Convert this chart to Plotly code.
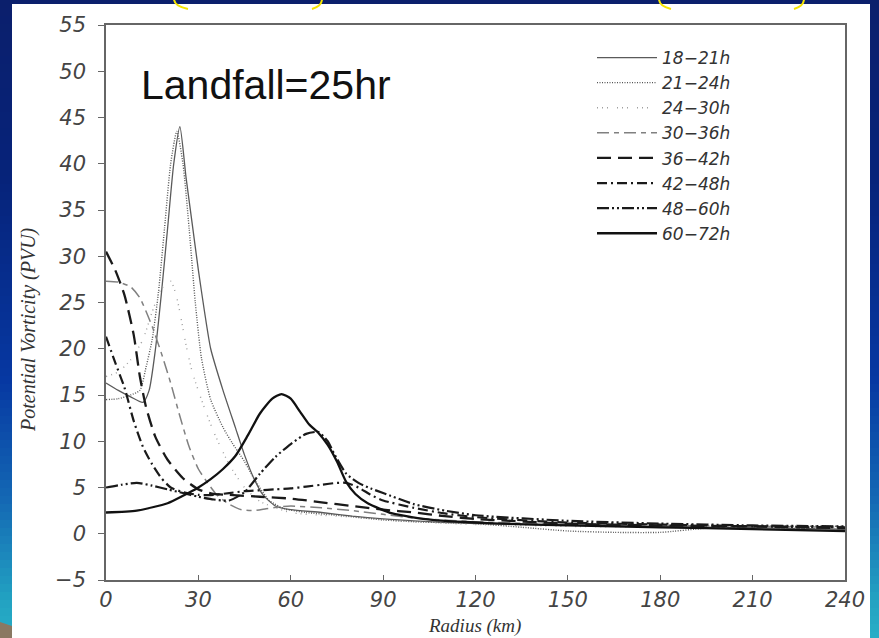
import plotly.graph_objects as go

# ---------------- data ----------------
series_names = ["18\u221221h", "21\u221224h", "24\u221230h", "30\u221236h",
                "36\u221242h", "42\u221248h", "48\u221260h", "60\u221272h"]

r_18_21 = [0, 4, 8, 12, 14, 16, 18, 20, 22, 24, 26, 28, 30, 32, 34, 38, 42, 45, 48, 51, 55, 60, 70, 80, 90, 100, 120, 150, 180, 210, 240]
pv_18_21 = [16.3, 15.5, 14.8, 14.2, 15.5, 19.8, 26, 33, 40, 44, 38.5, 33.5, 28.5, 24, 20, 15.5, 11.5, 8.5, 6, 4.2, 3, 2.6, 2.3, 1.9, 1.6, 1.4, 1.1, 0.95, 0.8, 0.65, 0.5]

r_21_24 = [0, 4, 8, 11, 13, 15, 17, 19, 21, 23, 25, 27, 29, 31, 34, 38, 41, 45, 48, 53, 58, 65, 75, 90, 100, 110, 120, 135, 150, 165, 180, 195, 210, 240]
pv_21_24 = [14.5, 14.6, 15, 15.5, 18, 21, 26, 33, 40, 43.5, 40, 33, 25, 19, 14.5, 11.5, 9.8, 7.8, 6, 3.6, 2.7, 2.3, 2, 1.5, 1.3, 1.2, 1.1, 0.7, 0.3, 0.15, 0.15, 0.6, 0.8, 0.8]

r_24_30 = [0, 4, 8, 12, 15, 18, 21, 23, 26, 28, 31, 35, 40, 45, 50, 60, 70, 80, 90, 100, 120, 150, 180, 210, 240]
pv_24_30 = [17, 17.5, 18.8, 21, 24, 26.5, 27.3, 25.5, 20.4, 17.5, 14.5, 11, 7.5, 5, 3.5, 2.3, 2, 1.8, 1.5, 1.3, 1.0, 0.8, 0.7, 0.6, 0.5]

r_30_36 = [0, 4, 8, 11, 15, 18, 21, 24, 27, 30, 33, 36, 40, 44, 48, 52, 56, 60, 70, 80, 90, 100, 120, 150, 180, 210, 240]
pv_30_36 = [27.3, 27.2, 26.7, 25.5, 22.4, 19.5, 16.3, 12.7, 9.4, 7, 5.5, 4.2, 3.2, 2.6, 2.5, 2.7, 2.9, 3, 2.8, 2.5, 2.1, 1.7, 1.3, 1.0, 0.9, 0.8, 0.7]

r_36_42 = [0, 3, 6, 9, 11, 13, 16, 20, 25, 30, 35, 40, 50, 60, 70, 80, 90, 100, 110, 120, 150, 180, 210, 240]
pv_36_42 = [30.5, 28.5, 25.8, 21.5, 17, 13.7, 10.5, 8, 6, 4.8, 4.3, 4.2, 4, 3.8, 3.4, 3, 2.6, 2.3, 1.9, 1.6, 1.1, 0.9, 0.8, 0.6]

r_42_48 = [0, 3, 6, 9, 12, 15, 18, 21, 25, 30, 35, 40, 45, 50, 55, 60, 65, 70, 75, 78, 82, 86, 90, 100, 110, 120, 150, 180, 210, 240]
pv_42_48 = [21.3, 18.5, 15.8, 12.2, 9.4, 7.5, 6, 5, 4.5, 4.2, 4.2, 4.4, 4.6, 4.7, 4.8, 4.9, 5.1, 5.3, 5.5, 5.5, 5, 4.2, 3.6, 2.8, 2.2, 1.8, 1.2, 1.0, 0.8, 0.7]

r_48_60 = [0, 5, 10, 15, 20, 25, 30, 35, 40, 45, 50, 55, 60, 65, 69, 72, 74, 78, 82, 86, 90, 100, 110, 120, 150, 180, 210, 240]
pv_48_60 = [5, 5.3, 5.5, 5.2, 4.8, 4.4, 4, 3.7, 3.6, 4.5, 6.5, 8.3, 9.7, 10.8, 11, 10, 8.7, 6.5, 5.5, 4.9, 4.4, 3.2, 2.5, 2, 1.4, 1.1, 0.9, 0.8]

r_60_72 = [0, 10, 20, 25, 30, 34, 38, 42, 46, 50, 54, 57, 60, 63, 66, 69, 72, 75, 78, 81, 85, 93, 106, 128, 150, 180, 210, 240]
pv_60_72 = [2.3, 2.5, 3.3, 4.1, 5, 5.9, 7.0, 8.4, 10.6, 13.0, 14.6, 15.1, 14.6, 13.2, 11.8, 10.9, 9.6, 7.8, 5.6, 4.3, 3.3, 2.2, 1.5, 1.1, 0.9, 0.7, 0.5, 0.3]

x_ticks = [0, 30, 60, 90, 120, 150, 180, 210, 240]
y_ticks = [-5, 0, 5, 10, 15, 20, 25, 30, 35, 40, 45, 50, 55]

# ---------------- styles ----------------
styles = [
    dict(color="#5a5a5a", width=1.3, dash="solid"),
    dict(color="#555555", width=1.4, dash="1px,1.5px"),
    dict(color="#a0a0a0", width=1.4, dash="1px,4px,1px,4px,1px,9px"),
    dict(color="#808080", width=1.5, dash="12px,5px,5px,5px"),
    dict(color="#1a1a1a", width=2.3, dash="14px,7px"),
    dict(color="#1a1a1a", width=2.2, dash="10px,4px,2px,4px"),
    dict(color="#1a1a1a", width=2.2, dash="12px,3px,2px,3px,2px,3px"),
    dict(color="#111111", width=2.3, dash="solid"),
]
rs = [r_18_21, r_21_24, r_24_30, r_30_36, r_36_42, r_42_48, r_48_60, r_60_72]
pvs = [pv_18_21, pv_21_24, pv_24_30, pv_30_36, pv_36_42, pv_42_48, pv_48_60, pv_60_72]

fig = go.Figure()
for name, r, pv, st in zip(series_names, rs, pvs, styles):
    fig.add_trace(go.Scatter(x=r, y=pv, mode="lines", name=name,
                             line=dict(shape="spline", smoothing=0.6, **st)))

W, H = 879, 638
L, R, T, B = 106, 845, 25, 580


def px(xp):
    return (xp - L) / (R - L)


def py(yp):
    return (B - yp) / (B - T)


shapes = []
# white slide panel
shapes.append(dict(type="rect", xref="paper", yref="paper", layer="below",
                   x0=px(12), x1=px(870), y0=py(638), y1=py(4),
                   fillcolor="white", line=dict(width=0)))


def lerp(c1, c2, t):
    a = [int(c1[i:i + 2], 16) for i in (1, 3, 5)]
    b = [int(c2[i:i + 2], 16) for i in (1, 3, 5)]
    return "#%02x%02x%02x" % tuple(round(a[k] + (b[k] - a[k]) * t) for k in range(3))


stops = [(0, "#0b1f6c"), (180, "#06237a"), (380, "#0638a2"), (500, "#1468b4"), (600, "#22a2c2"), (638, "#27aec6")]


def grad_color(y):
    for (y0, c0), (y1, c1) in zip(stops[:-1], stops[1:]):
        if y0 <= y <= y1:
            return lerp(c0, c1, (y - y0) / (y1 - y0))
    return stops[-1][1]


step = 8
for yy in range(0, 638, step):
    c = grad_color(yy + step / 2)
    for xa, xb in ((0, 12), (870, 879)):
        shapes.append(dict(type="rect", xref="paper", yref="paper", layer="below",
                           x0=px(xa), x1=px(xb), y0=py(min(yy + step + 1, 638)), y1=py(yy),
                           fillcolor=c, line=dict(width=0)))
# brown corner
shapes.append(dict(type="path", xref="paper", yref="paper", layer="below",
                   path="M %f,%f L %f,%f L %f,%f L %f,%f Z" % (px(0), py(622), px(12), py(626), px(12), py(638), px(0), py(638)),
                   fillcolor="#8a7862", line=dict(width=0)))
# yellow arcs at top
for (xa, xb) in ((174, 188), (322, 312), (659, 671), (804, 794)):
    shapes.append(dict(type="path", xref="paper", yref="paper", layer="above",
                       path="M %f,%f Q %f,%f %f,%f" % (px(xa), py(-1), px(xa), py(6), px(xb), py(9)),
                       line=dict(color="#f5e400", width=2)))

tickfont = dict(family="DejaVu Sans", size=21, color="#444444", style="italic")
titlefont = dict(family="Liberation Serif", size=20, color="#333333", style="italic")

fig.update_layout(
    width=W, height=H,
    margin=dict(l=L, r=W - R, t=T, b=H - B),
    paper_bgcolor="#0b1f6c",
    plot_bgcolor="white",
    shapes=shapes,
    showlegend=True,
    legend=dict(x=px(592), y=py(40), xanchor="left", yanchor="top",
                bgcolor="rgba(0,0,0,0)", tracegroupgap=0, itemwidth=60,
                font=dict(family="DejaVu Sans", size=17, color="#333333", style="italic")),
    annotations=[
        dict(text="Landfall=25hr", xref="paper", yref="paper", x=px(139), y=py(85),
             xanchor="left", yanchor="middle", showarrow=False,
             font=dict(family="Liberation Sans", size=41, color="#111111")),
        dict(text="Potential Vorticity (PVU)", xref="paper", yref="paper", x=px(29), y=py(330),
             xanchor="center", yanchor="middle", textangle=-90, showarrow=False, font=titlefont),
        dict(text="Radius (km)", xref="paper", yref="paper", x=px(474), y=py(626),
             xanchor="center", yanchor="middle", showarrow=False,
             font=dict(family="Liberation Serif", size=19, color="#333333", style="italic")),
    ],
)
fig.update_xaxes(range=[0, 240], tickvals=x_ticks, ticktext=[str(v) for v in x_ticks],
                 showline=True, mirror=True, linecolor="#666666", linewidth=1.5,
                 ticks="inside", ticklen=5, tickcolor="#666666", tickwidth=1.2,
                 showgrid=False, zeroline=False, tickfont=tickfont, ticklabelstandoff=0)
fig.update_yaxes(range=[-5, 55], tickvals=y_ticks,
                 showline=True, mirror=True, linecolor="#666666", linewidth=1.5,
                 ticks="outside", ticklen=6, tickcolor="#666666", tickwidth=1.2,
                 showgrid=False, zeroline=False, tickfont=tickfont, ticklabelstandoff=8)

fig.write_html("out.html")
